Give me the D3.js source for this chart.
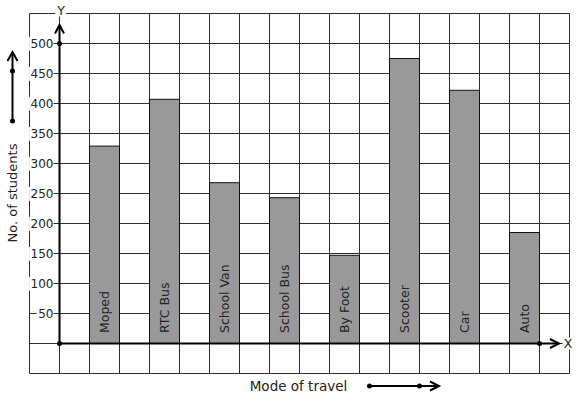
<!DOCTYPE html>
<html>
<head>
<meta charset="utf-8">
<script src="https://cdn.jsdelivr.net/npm/d3@7"></script>
<style>
  html, body { margin: 0; padding: 0; background: #fff; }
  svg { display: block; font-family: "DejaVu Sans", sans-serif; }
</style>
</head>
<body>
<svg id="chart" width="577" height="399"></svg>
<script>
const categories = ["Moped", "RTC Bus", "School Van", "School Bus", "By Foot", "Scooter", "Car", "Auto"];
const students = [329, 407, 268, 243, 147, 475, 422, 185];
const yTickValues = [50, 100, 150, 200, 250, 300, 350, 400, 450, 500];
const yGridValues = [-50, 0, 50, 100, 150, 200, 250, 300, 350, 400, 450, 500, 550];
const xGridColumns = d3.range(-1, 18);

const svg = d3.select("#chart");
const ink = "#222";
const gridColor = "#2e2e2e";

const y = d3.scaleLinear().domain([-50, 550]).range([373.5, 13.5]);
const col = d3.scaleLinear().domain([-1, 17]).range([29.5, 569.5]);
const x = d3.scaleBand().domain(categories).range([col(0), col(17)]).paddingInner(0.5).paddingOuter(0.5);

// Grid
const grid = svg.append("g");
grid.selectAll("line.h").data(yGridValues).join("line")
  .attr("x1", col(-1)).attr("x2", col(17))
  .attr("y1", d => y(d)).attr("y2", d => y(d))
  .attr("stroke", gridColor).attr("stroke-width", 1);
grid.selectAll("line.v").data(xGridColumns).join("line")
  .attr("x1", d => col(d)).attr("x2", d => col(d))
  .attr("y1", y(550)).attr("y2", y(-50))
  .attr("stroke", gridColor).attr("stroke-width", 1);

// Bars
svg.append("g").selectAll("rect").data(categories).join("rect")
  .attr("x", d => x(d))
  .attr("y", (d, i) => y(students[i]))
  .attr("width", x.bandwidth())
  .attr("height", (d, i) => y(0) - y(students[i]))
  .attr("fill", "#999999")
  .attr("stroke", "#111")
  .attr("stroke-width", 1);

// Bar labels (reading upward from near the baseline)
svg.append("g").selectAll("text").data(categories).join("text")
  .attr("transform", d => `translate(${x(d) + x.bandwidth() / 2 + 4.5},${y(0) - 10.5}) rotate(-90)`)
  .attr("text-anchor", "start")
  .attr("font-size", "12.5px")
  .attr("fill", ink)
  .text(d => d);

// Y tick labels with white background
const yLabels = svg.append("g");
yTickValues.forEach(v => {
  const t = yLabels.append("text")
    .attr("x", 53.5).attr("y", y(v)).attr("dy", "0.36em")
    .attr("text-anchor", "end").attr("font-size", "12px").attr("fill", ink)
    .text(v);
  const b = t.node().getBBox();
  yLabels.insert("rect", () => t.node())
    .attr("x", b.x - 1.5).attr("y", b.y).attr("width", b.width + 1.5).attr("height", b.height)
    .attr("fill", "#fff");
});

// Axes
const axes = svg.append("g").attr("stroke", "#000").attr("stroke-width", 2).attr("fill", "none");
axes.append("line").attr("x1", col(0)).attr("x2", col(0)).attr("y1", y(0)).attr("y2", 25);
axes.append("path").attr("d", `M${col(0) - 4.5},33.5 L${col(0)},25 L${col(0) + 4.5},33.5`);
axes.append("line").attr("x1", col(0)).attr("x2", 559).attr("y1", y(0)).attr("y2", y(0));
axes.append("path").attr("d", `M550,${y(0) - 4.5} L559,${y(0)} L550,${y(0) + 4.5}`);

const dots = svg.append("g").attr("fill", "#000");
[[col(0), y(500)], [col(0), y(0)], [col(16), y(0)]].forEach(p =>
  dots.append("circle").attr("cx", p[0]).attr("cy", p[1]).attr("r", 2.5));

// Axis letters with white background
function boxedText(tx, ty, str, size) {
  const t = svg.append("text").attr("x", tx).attr("y", ty)
    .attr("text-anchor", "middle").attr("font-size", size).attr("fill", ink).text(str);
  const b = t.node().getBBox();
  svg.insert("rect", () => t.node())
    .attr("x", b.x - 1).attr("y", b.y + 2).attr("width", b.width + 2).attr("height", b.height - 3)
    .attr("fill", "#fff");
}
boxedText(61, 14.5, "Y", "12.5px");
boxedText(568, 347.5, "X", "12.5px");

// Left axis title with arrow
svg.append("text")
  .attr("transform", "translate(17,193) rotate(-90)")
  .attr("text-anchor", "middle").attr("font-size", "13px").attr("fill", ink)
  .text("No. of students");
const la = svg.append("g").attr("stroke", "#000").attr("stroke-width", 2).attr("fill", "none");
la.append("line").attr("x1", 12.5).attr("x2", 12.5).attr("y1", 121).attr("y2", 52);
la.append("path").attr("d", "M7.5,61 L12.5,52 L17.5,61");
svg.append("circle").attr("cx", 12.5).attr("cy", 121).attr("r", 2.5).attr("fill", "#000");
svg.append("circle").attr("cx", 12.5).attr("cy", 71).attr("r", 2.5).attr("fill", "#000");

// Bottom axis title with arrow
svg.append("text")
  .attr("x", 298.5).attr("y", 390.5)
  .attr("text-anchor", "middle").attr("font-size", "13.5px").attr("fill", ink)
  .text("Mode of travel");
const ba = svg.append("g").attr("stroke", "#000").attr("stroke-width", 2).attr("fill", "none");
ba.append("line").attr("x1", 369.5).attr("x2", 439).attr("y1", 386).attr("y2", 386);
ba.append("path").attr("d", "M430,381.5 L439,386 L430,390.5");
svg.append("circle").attr("cx", 369.5).attr("cy", 386).attr("r", 2.5).attr("fill", "#000");
svg.append("circle").attr("cx", 419.5).attr("cy", 386).attr("r", 2.5).attr("fill", "#000");
</script>
</body>
</html>
